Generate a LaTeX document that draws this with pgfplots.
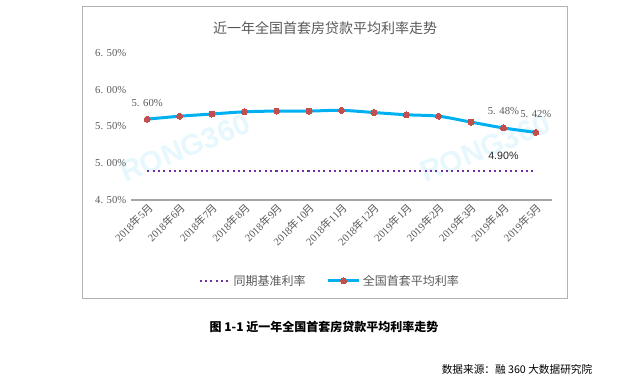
\documentclass[border=0pt]{standalone}
\usepackage{pgfplots}
\pgfplotsset{compat=1.18}
\usepackage{fontspec}
\setmainfont{Liberation Serif}
\setsansfont{Liberation Sans}
\newfontfamily\cjk{Noto Sans CJK SC}
\definecolor{lineblue}{HTML}{00B0F0}
\definecolor{mred}{HTML}{C0504D}
\definecolor{bpurple}{HTML}{7030A0}
\definecolor{txt}{HTML}{595959}
\definecolor{axgray}{HTML}{A6A6A6}
\begin{document}
\begin{tikzpicture}[x=0.75pt,y=0.75pt]
\path[use as bounding box] (0,0) rectangle (639,390);
\draw[color=black!30, line width=0.75pt] (82,92) rectangle (567,383);
\node[font=\cjk\fontsize{10.5}{12}\selectfont, text=txt] at (325,362) {近一年全国首套房贷款平均利率走势};
\node[rotate=22, font=\sffamily\bfseries\fontsize{22}{22}\selectfont, text=cyan!10] at (185,242) {RONG360};
\node[rotate=22, font=\sffamily\bfseries\fontsize{22}{22}\selectfont, text=cyan!10] at (485,242) {RONG360};
\begin{axis}[
  at={(98.25pt,142.5pt)}, anchor=south west, scale only axis,
  width=315.75pt, height=110.25pt,
  xmin=-0.5, xmax=12.5, ymin=4.5, ymax=6.5,
  axis x line*=bottom, axis y line*=left,
  x axis line style={-, draw=axgray, line width=1.2pt},
  y axis line style={-, draw=none},
  xtick={0,...,12},
  xticklabels={2018{\cjk 年}5{\cjk 月},2018{\cjk 年}6{\cjk 月},2018{\cjk 年}7{\cjk 月},2018{\cjk 年}8{\cjk 月},2018{\cjk 年}9{\cjk 月},2018{\cjk 年}10{\cjk 月},2018{\cjk 年}11{\cjk 月},2018{\cjk 年}12{\cjk 月},2019{\cjk 年}1{\cjk 月},2019{\cjk 年}2{\cjk 月},2019{\cjk 年}3{\cjk 月},2019{\cjk 年}4{\cjk 月},2019{\cjk 年}5{\cjk 月}},
  ytick={4.5,5,5.5,6,6.5},
  yticklabels={4. 50\%,5. 00\%,5. 50\%,6. 00\%,6. 50\%},
  major tick length=0pt,
  x tick label style={rotate=45, anchor=north east, font=\fontsize{8}{9}\selectfont, text=txt, inner sep=1pt},
  y tick label style={font=\fontsize{8}{9}\selectfont, text=txt},
  clip=false,
  legend style={at={(0.473,-0.551)}, anchor=center, draw=none, fill=none, legend columns=2,
    font=\cjk\fontsize{9}{10}\selectfont, text=txt,
    /tikz/every even column/.append style={column sep=14pt}},
  legend image code/.code={\draw[mark repeat=2,mark phase=2,#1] plot coordinates {(0cm,0cm) (0.4cm,0cm) (0.8cm,0cm)};},
]
\draw[axgray, line width=1.2pt] (axis cs:-0.5,4.5) -- (axis cs:12.5,4.5);
\addplot[bpurple, line width=1.5pt, dash pattern=on 1.5pt off 2.5pt] coordinates {
(0,4.90) (1,4.90) (2,4.90) (3,4.90) (4,4.90) (5,4.90) (6,4.90) (7,4.90) (8,4.90) (9,4.90) (10,4.90) (11,4.90) (12,4.90)};
\addlegendentry{同期基准利率}
\addplot[lineblue, line width=2.25pt, smooth, mark=*, mark size=2.25pt, mark options={draw=mred, fill=mred, line width=0pt}] coordinates {
(0,5.60) (1,5.64) (2,5.67) (3,5.70) (4,5.71) (5,5.71) (6,5.72) (7,5.69) (8,5.66) (9,5.64) (10,5.56) (11,5.48) (12,5.42)};
\addlegendentry{全国首套平均利率}
\node[font=\fontsize{8}{9}\selectfont, text=txt] at (axis cs:0,5.60) [yshift=12pt] {5. 60\%};
\node[font=\fontsize{8}{9}\selectfont, text=txt] at (axis cs:11,5.48) [yshift=12.75pt] {5. 48\%};
\node[font=\fontsize{8}{9}\selectfont, text=txt] at (axis cs:12,5.42) [yshift=13.5pt] {5. 42\%};
\node[font=\sffamily\fontsize{8}{9}\selectfont, text=black!85] at (axis cs:11,4.90) [yshift=11pt] {4.90\%};
\end{axis}
\node[font=\cjk\bfseries\fontsize{9}{10}\selectfont] at (324,63) {图 1-1 近一年全国首套房贷款平均利率走势};
\node[font=\cjk\fontsize{8}{9}\selectfont, anchor=east] at (597,21) {数据来源：融 360 大数据研究院};
\end{tikzpicture}
\end{document}
